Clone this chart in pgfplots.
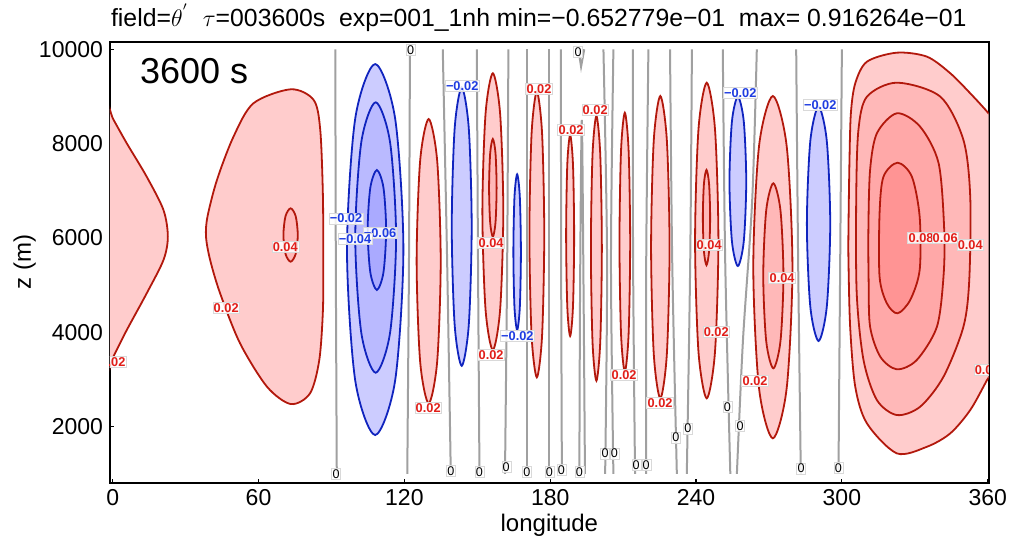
\documentclass[border=0pt]{standalone}
\usepackage{fontspec}
\setmainfont{Liberation Sans}
\usepackage{pgfplots}
\pgfplotsset{compat=1.18}
\definecolor{rf1}{RGB}{255,204,204}
\definecolor{rf2}{RGB}{255,184,184}
\definecolor{rf3}{RGB}{255,168,168}
\definecolor{rf4}{RGB}{255,148,148}
\definecolor{bf1}{RGB}{204,204,255}
\definecolor{bf2}{RGB}{186,186,255}
\definecolor{bf3}{RGB}{170,170,255}
\definecolor{rl}{RGB}{178,24,12}
\definecolor{bl}{RGB}{16,36,190}
\definecolor{zl}{RGB}{160,160,160}
\definecolor{rt}{RGB}{225,30,25}
\definecolor{btx}{RGB}{30,60,225}
\tikzset{
  lab/.style={fill=white, fill opacity=0.85, text opacity=1, draw=black!15, line width=0.2pt, inner sep=0.5pt, font=\fontsize{6.4}{7}\selectfont\bfseries},
  zlab/.style={fill=white, fill opacity=0.85, text opacity=1, draw=black!15, line width=0.2pt, inner sep=0.5pt, text=black, font=\fontsize{6.3}{7}\selectfont},
}
\newcommand{\rlab}[3]{\node[lab, text=rt] at (axis cs:#1,#2) {#3};}
\newcommand{\blab}[3]{\node[lab, text=btx] at (axis cs:#1,#2) {#3};}
\newcommand{\zlab}[2]{\node[zlab] at (axis cs:#1,#2) {0};}
\begin{document}
\begin{tikzpicture}
\begin{axis}[
  at={(0,0)}, anchor=south west,
  scale only axis, width=439.35pt, height=220.5pt,
  xmin=-1.1, xmax=360.4, ymin=813, ymax=10161,
  scaled x ticks=false, scaled y ticks=false,
  xtick={0,60,120,180,240,300,360},
  xticklabels={0,60,120,180,240,300,360},
  ytick={2000,4000,6000,8000,10000},
  yticklabels={2000,4000,6000,8000,10000},
  xtick pos=bottom, ytick pos=left,
  tick align=inside, major tick length=2pt,
  tick style={black, line width=0.6pt},
  axis line style={black, line width=1pt},
  ticklabel style={font=\fontsize{11.5}{13}\selectfont},
  xlabel={longitude}, ylabel={z (m)},
  label style={font=\fontsize{12}{14}\selectfont},
  xlabel style={at={(axis description cs:0.5,-0.096)}, anchor=center},
  ylabel style={at={(axis description cs:-0.097,0.5)}, anchor=center},
  every axis title shift=0pt,
  title={field=$\theta^{'}$\ \ $\tau$=003600s\ \ exp=001\_1nh min=−0.652779e−01\ \ max= 0.916264e−01},
  title style={font=\fontsize{12.4}{14}\selectfont, at={(axis description cs:0.488,1)}, anchor=base, yshift=7.35pt, inner sep=0pt},
]
% ---- left wrapped red region
\addplot[smooth cycle, fill=rf1, draw=rl, line width=0.9pt] coordinates {
 (-5.3,9025) (0.25,8516) (5.8,8007) (14,7299) (20.9,6593) (22.7,6027) (20.9,5533) (14,4827) (5.8,4049) (0.25,3483) (-5.3,2917) (-12,6000)};
% ---- red region around 73
\addplot[smooth cycle, fill=rf1, draw=rl, line width=0.9pt] coordinates {
 (73.3,9152) (57.9,8855) (49.7,8147) (42.9,7229) (39,6451) (38.4,6027) (40.1,5533) (44.2,4827) (52.4,3767) (63.5,2847) (73.3,2480) (81.2,2707) (85,3413) (86.5,4473) (86.6,5533) (86.5,6875) (85.4,8289) (82.7,8925)};
\addplot[smooth cycle, fill=rf2, draw=rl, line width=0.9pt] coordinates {
 (76.15,6063) (75.29,6463) (73.2,6629) (71.11,6463) (70.25,6063) (71.11,5663) (73.2,5497) (75.29,5663)};
% ---- blue region around 108
\addplot[smooth cycle, fill=bf1, draw=bl, line width=0.9pt] coordinates {
 (119.6,5755) (116.2,8535) (108,9687) (99.8,8535) (96.4,5755) (99.8,2975) (108,1823) (116.2,2975)};
\addplot[smooth cycle, fill=bf2, draw=bl, line width=0.9pt] coordinates {
 (116.6,6010) (114.1,8036) (108.2,8876) (102.3,8036) (99.8,6010) (102.3,3984) (108.2,3144) (114.1,3984)};
\addplot[smooth cycle, fill=bf3, draw=bl, line width=0.9pt] coordinates {
 (112.5,6169) (111.4,7068) (108.7,7441) (106,7068) (104.9,6169) (106,5270) (108.7,4897) (111.4,5270)};
% ---- narrow cells
\addplot[smooth cycle, fill=rf1, draw=rl, line width=0.9pt] coordinates {
 (134.95,5508) (133.5,7638) (130,8521) (126.5,7638) (125.05,5508) (126.5,3378) (130,2495) (133.5,3378)};
\addplot[smooth cycle, fill=bf1, draw=bl, line width=0.9pt] coordinates {
 (147.7,6240) (146.5,8326) (143.6,9190) (140.7,8326) (139.5,6240) (140.7,4154) (143.6,3290) (146.5,4154)};
\addplot[smooth cycle, fill=rf1, draw=rl, line width=0.9pt] coordinates {
 (160.7,6558) (159.4,8632) (156.4,9491) (153.4,8632) (152.1,6558) (153.4,4484) (156.4,3625) (159.4,4484)};
\addplot[smooth cycle, fill=rf2, draw=rl, line width=0.9pt] coordinates {
 (157.95,7062) (157.5,7794) (156.4,8097) (155.3,7794) (154.85,7062) (155.3,6330) (156.4,6027) (157.5,6330)};
\addplot[smooth cycle, fill=bf1, draw=bl, line width=0.9pt] coordinates {
 (167.95,5700) (167.5,6867) (166.4,7350) (165.3,6867) (164.85,5700) (165.3,4533) (166.4,4050) (167.5,4533)};
\addplot[smooth cycle, fill=rf1, draw=rl, line width=0.9pt] coordinates {
 (177.55,6073) (176.66,8213) (174.5,9100) (172.34,8213) (171.45,6073) (172.34,3933) (174.5,3046) (176.66,3933)};
\addplot[smooth cycle, fill=rf1, draw=rl, line width=0.9pt] coordinates {
 (189.85,6052) (189.37,7558) (188.2,8182) (187.03,7558) (186.55,6052) (187.03,4546) (188.2,3922) (189.37,4546)};
\addplot[smooth cycle, fill=rf1, draw=rl, line width=0.9pt] coordinates {
 (201.25,5780) (200.59,7764) (199,8586) (197.41,7764) (196.75,5780) (197.41,3796) (199,2974) (200.59,3796)};
\addplot[smooth cycle, fill=rf1, draw=rl, line width=0.9pt] coordinates {
 (212.9,5910) (212.26,7851) (210.7,8655) (209.14,7851) (208.5,5910) (209.14,3969) (210.7,3165) (212.26,3969)};
\addplot[smooth cycle, fill=rf1, draw=rl, line width=0.9pt] coordinates {
 (229.1,5805) (227.99,8070) (225.3,9009) (222.61,8070) (221.5,5805) (222.61,3540) (225.3,2601) (227.99,3540)};
\addplot[smooth cycle, fill=rf1, draw=rl, line width=0.9pt] coordinates {
 (249.2,5946) (247.79,8311) (244.4,9291) (241.01,8311) (239.6,5946) (241.01,3581) (244.4,2601) (247.79,3581)};
\addplot[smooth cycle, fill=rf2, draw=rl, line width=0.9pt] coordinates {
 (245.8,6434) (245.36,7146) (244.3,7441) (243.24,7146) (242.8,6434) (243.24,5722) (244.3,5427) (245.36,5722)};
\addplot[smooth cycle, fill=bf1, draw=bl, line width=0.9pt] coordinates {
 (260.65,7200) (259.64,8469) (257.2,8995) (254.76,8469) (253.75,7200) (254.76,5931) (257.2,5405) (259.64,5931)};
\addplot[smooth cycle, fill=rf1, draw=rl, line width=0.9pt] coordinates {
 (279.65,5381) (277.29,7946) (271.6,9009) (265.91,7946) (263.55,5381) (265.91,2816) (271.6,1753) (277.29,2816)};
\addplot[smooth cycle, fill=rf2, draw=rl, line width=0.9pt] coordinates {
 (275.95,5198) (274.73,6585) (271.8,7159) (268.87,6585) (267.65,5198) (268.87,3811) (271.8,3237) (274.73,3811)};
\addplot[smooth cycle, fill=bf1, draw=bl, line width=0.9pt] coordinates {
 (295.2,6300) (293.79,8056) (290.4,8784) (287.01,8056) (285.6,6300) (287.01,4544) (290.4,3816) (293.79,4544)};
% ---- big red region on the right
\addplot[smooth cycle, fill=rf1, draw=rl, line width=0.9pt] coordinates {
 (365,8300) (360.3,8643) (352.8,9067) (344.6,9491) (335,9843) (322.6,9928) (310.3,9737) (305.5,9279) (303.7,8643) (303.1,7583) (302.7,6169) (302.7,5533) (303.4,4119) (305.5,2847) (310.3,2071) (322.6,1435) (335,1575) (344.6,1859) (352.8,2353) (359.7,2989) (365,3500) (370,6000)};
\addplot[smooth cycle, fill=rf2, draw=rl, line width=0.9pt] coordinates {
 (322.6,9292) (310.3,8995) (306.8,8289) (305.9,6875) (306.1,4827) (308.9,3413) (314.4,2565) (322.6,2247) (332.2,2423) (341.8,3059) (350,4119) (352.4,5109) (352.8,6875) (350,8077) (340.5,8995)};
\addplot[smooth cycle, fill=rf3, draw=rl, line width=0.9pt] coordinates {
 (322.6,8643) (314.4,8219) (311.6,7441) (310.9,6169) (311,5100) (311.6,4119) (315.8,3483) (322.6,3216) (330.8,3413) (339.1,4119) (341.8,5179) (342.1,6169) (339.8,7583) (332.2,8359)};
\addplot[smooth cycle, fill=rf4, draw=rl, line width=0.9pt] coordinates {
 (322.9,7596) (317.1,7299) (315.5,6523) (315.5,5179) (318.5,4615) (322.9,4403) (328.1,4685) (332,5321) (332,6451) (328.8,7299)};
% ---- zero contours
\addplot[zl, line width=1pt, smooth] coordinates {(91.6,10000) (91.8,5500) (92.2,1000)};
\addplot[zl, line width=1pt, smooth] coordinates {(122.3,10000) (121.9,5500) (121.2,1000)};
\addplot[zl, line width=1pt, smooth] coordinates {(135.8,10000) (137.6,5500) (139.1,1000)};
\addplot[zl, line width=1pt, smooth] coordinates {(149.8,10000) (150.3,5500) (150.9,1000)};
\addplot[zl, line width=1pt, smooth] coordinates {(162.8,10000) (162.3,5500) (161.4,1000)};
\addplot[zl, line width=1pt, smooth] coordinates {(170.4,10000) (170.4,5500) (170.4,1000)};
\addplot[zl, line width=1pt, smooth] coordinates {(179.7,10000) (179.7,5500) (179.7,1000)};
\addplot[zl, line width=1pt, smooth] coordinates {(184.4,10000) (184.5,5500) (184.8,1000)};
\addplot[zl, line width=1pt] coordinates {(191.6,10000) (192.7,9630) (194.0,10000)};
\addplot[zl, line width=1pt, smooth] coordinates {(192.0,1000) (192.3,5000) (193.0,8500) (193.7,5000) (194.3,1000)};
\addplot[zl, line width=1pt, smooth] coordinates {(201.9,10000) (203.4,5500) (202.6,1000)};
\addplot[zl, line width=1pt, smooth] coordinates {(206.0,10000) (205.0,5500) (206.0,1000)};
\addplot[zl, line width=1pt, smooth] coordinates {(214.0,10000) (214.1,5500) (214.9,1000)};
\addplot[zl, line width=1pt, smooth] coordinates {(220.4,10000) (219.5,5500) (219.5,1000)};
\addplot[zl, line width=1pt, smooth] coordinates {(229.3,10000) (230.2,5500) (232.1,1000)};
\addplot[zl, line width=1pt, smooth] coordinates {(238.3,10000) (237.6,5500) (236.2,1000)};
\addplot[zl, line width=1pt, smooth] coordinates {(251.0,10000) (252.0,5500) (254.1,1000)};
\addplot[zl, line width=1pt, smooth] coordinates {(265.0,10000) (263.1,6800) (259.3,3830) (256.8,1000)};
\addplot[zl, line width=1pt, smooth] coordinates {(281.2,10000) (282.0,5500) (283.1,1000)};
\addplot[zl, line width=1pt, smooth] coordinates {(300.0,10000) (299.3,5500) (298.6,1000)};
% ---- labels
\node[anchor=base west, font=\fontsize{18}{20}\selectfont] at (axis cs:8.4,9264) {3600 s};
\rlab{0.1}{3371}{0.02}
\rlab{46.7}{4516}{0.02}
\rlab{71}{5808}{0.04}
\blab{110.0}{6106}{−0.06}
\blab{96}{6417}{−0.02}
\blab{99.7}{5978}{−0.04}
\blab{143.8}{9222}{−0.02}
\rlab{155.7}{5894}{0.04}
\rlab{155.7}{3519}{0.02}
\blab{166.5}{3922}{−0.02}
\rlab{175.4}{9158}{0.02}
\rlab{129.8}{2396}{0.02}
\rlab{188.6}{8289}{0.02}
\rlab{198.5}{8713}{0.02}
\rlab{210.4}{3095}{0.02}
\rlab{225.2}{2501}{0.02}
\rlab{245.4}{5850}{0.04}
\blab{258.2}{9074}{−0.02}
\rlab{248.3}{4007}{0.02}
\rlab{275.4}{5152}{0.04}
\rlab{264.3}{2968}{0.02}
\blab{291.1}{8819}{−0.02}
\rlab{332.6}{6000}{0.08}
\rlab{342.5}{6000}{0.06}
\rlab{352.8}{5850}{0.04}
\rlab{359.8}{3201}{0.02}
\zlab{122.6}{9986}
\zlab{191.5}{9943}
\zlab{91.9}{996}
\zlab{139.1}{1060}
\zlab{150.9}{1038}
\zlab{161.9}{1144}
\zlab{170.4}{1038}
\zlab{179.7}{1038}
\zlab{184.6}{1081}
\zlab{192.0}{1045}
\zlab{202.6}{1435}
\zlab{206.4}{1435}
\zlab{215.4}{1187}
\zlab{219.5}{1187}
\zlab{231.7}{1774}
\zlab{236.6}{1965}
\zlab{252.9}{2423}
\zlab{258.1}{2014}
\zlab{283.2}{1117}
\zlab{298.6}{1124}
\end{axis}
\pgfresetboundingbox
\path[use as bounding box] (-55pt,-28.15pt) rectangle (450.5pt,241.35pt);
\end{tikzpicture}
\end{document}
